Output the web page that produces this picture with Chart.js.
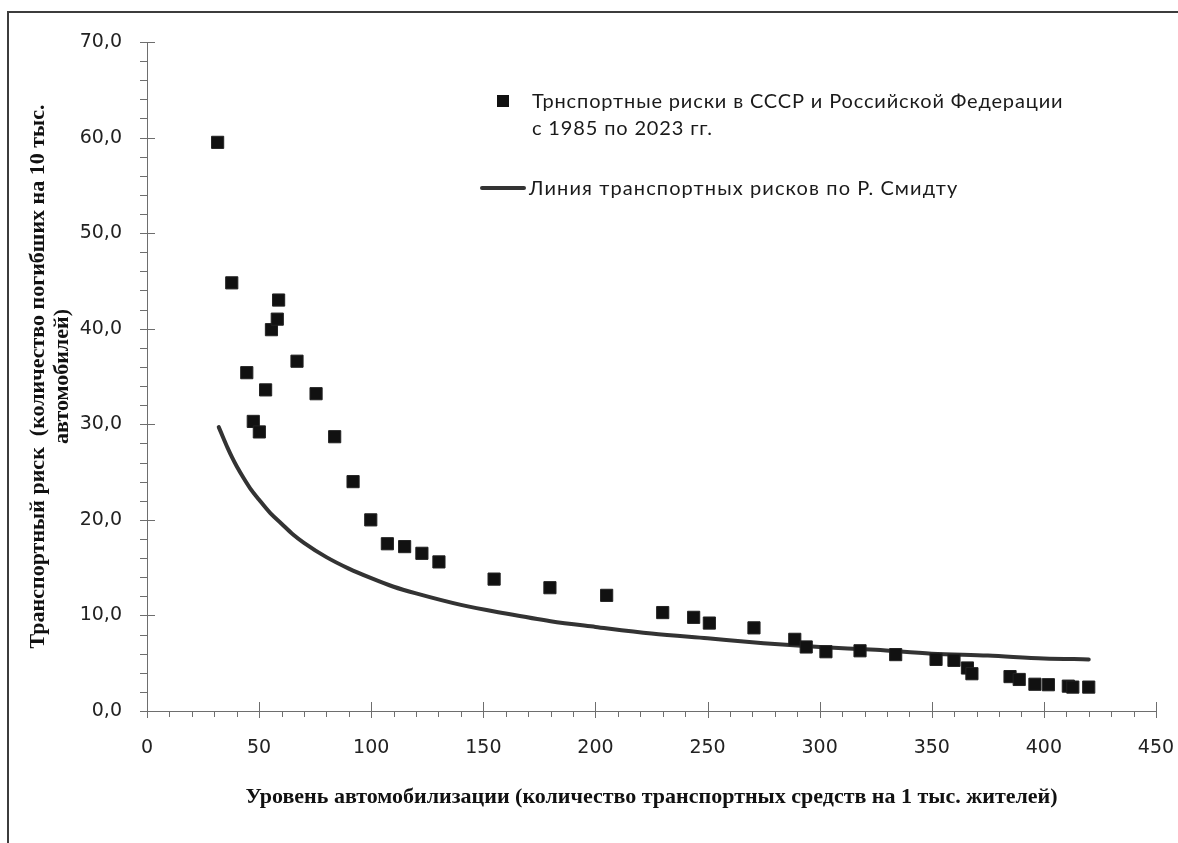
<!DOCTYPE html>
<html>
<head>
<meta charset="utf-8">
<script src="https://cdn.jsdelivr.net/npm/chart.js@4.4.1/dist/chart.umd.min.js"></script>
<style>
  body { margin: 0; background: #fff; }
  #wrap { position: relative; width: 1178px; height: 843px; overflow: hidden; }
  #frame { position: absolute; left: 7px; top: 11px; width: 1300px; height: 1000px;
           border-left: 2px solid #3c3c3c; border-top: 2px solid #3c3c3c; pointer-events: none; }
  .lg { position: absolute; font-family: Lato, "Liberation Sans", sans-serif; font-size: 20px;
        letter-spacing: 0.85px; color: #1a1a1a; line-height: 27px; white-space: nowrap; }
  .mark { position: absolute; background: #111; }
</style>
</head>
<body>
<div id="wrap">
  <canvas id="myChart" width="1178" height="843"></canvas>
  <div id="frame"></div>
  <div class="mark" style="left:497px;top:95px;width:12px;height:12px;"></div>
  <div class="lg" id="lg1" style="left:532px;top:87px;"></div>
  <div class="mark" style="left:480px;top:186px;width:46px;height:4px;background:#333;border-radius:2px;"></div>
  <div class="lg" id="lg2" style="left:529px;top:174px;letter-spacing:1.1px;"></div>
</div>
<script>
// Observed risk: vehicles per 1000 people vs deaths per 10k vehicles
var riskX = [31.5, 37.8, 44.5, 47.4, 50.1, 52.9, 55.5, 58.1, 58.7, 66.9, 75.4, 83.7,
             91.9, 99.8, 107.2, 114.9, 122.6, 130.2, 154.8, 179.7, 205.0,
             230.0, 243.8, 250.8, 270.7, 288.9, 294.0, 302.8, 318.0, 333.9, 351.9,
             359.9, 365.9, 367.9, 384.9, 389.0, 396.0, 402.0, 410.9, 412.9, 420.0];
var riskY = [59.5, 44.8, 35.4, 30.3, 29.2, 33.6, 39.9, 41.0, 43.0, 36.6, 33.2, 28.7,
             24.0, 20.0, 17.5, 17.2, 16.5, 15.6, 13.8, 12.9, 12.1,
             10.3, 9.8, 9.2, 8.7, 7.5, 6.7, 6.2, 6.3, 5.9, 5.4,
             5.3, 4.5, 3.9, 3.6, 3.3, 2.8, 2.75, 2.6, 2.5, 2.5];

// Smeed line
var smeedX = [32, 34, 36, 38, 40, 43, 46, 50, 55, 60, 65, 70, 80, 90, 100, 110, 120, 140, 160, 180, 200,
              225, 250, 275, 300, 325, 350, 375, 400, 420];
var smeedY = [29.7, 28.6, 27.5, 26.5, 25.6, 24.4, 23.3, 22.1, 20.7, 19.6, 18.5, 17.6, 16.1, 14.9, 13.9, 13.0, 12.3, 11.1, 10.2, 9.4, 8.8,
              8.1, 7.6, 7.1, 6.7, 6.4, 6.0, 5.8, 5.5, 5.4];

var riskLabel = ['Трнспортные риски в СССР и Российской Федерации', 'с 1985 по 2023 гг.'];
var smeedLabel = 'Линия транспортных рисков по Р. Смидту';
var xTitle = 'Уровень автомобилизации (количество транспортных средств на 1 тыс. жителей)';
var yTitle = ['Транспортный риск  (количество погибших на 10 тыс.', 'автомобилей)'];

document.getElementById('lg1').innerHTML = riskLabel.join('<br>');
document.getElementById('lg2').textContent = smeedLabel;

var riskPts = riskX.map(function(x, i) { return {x: x, y: riskY[i]}; });
var smeedPts = smeedX.map(function(x, i) { return {x: x, y: smeedY[i]}; });

// Excel style tick marks: major crossing the axis, minor on the outside
var tickMarks = {
  id: 'tickMarks',
  afterDraw: function(chart) {
    var ctx = chart.ctx, xs = chart.scales.x, ys = chart.scales.y;
    var ax = xs.getPixelForValue(0), ay = ys.getPixelForValue(0);
    ctx.save();
    ctx.strokeStyle = '#6e6e6e';
    ctx.lineWidth = 1;
    ctx.beginPath();
    for (var v = 0; v <= 450; v += 10) {
      var px = Math.round(xs.getPixelForValue(v)) + 0.5;
      if (v % 50 === 0) { ctx.moveTo(px, ay - 9); ctx.lineTo(px, ay + 7); }
      else { ctx.moveTo(px, ay); ctx.lineTo(px, ay + 6); }
    }
    for (var w = 0; w <= 70; w += 2) {
      var py = Math.round(ys.getPixelForValue(w)) + 0.5;
      if (w % 10 === 0) { ctx.moveTo(ax - 7, py); ctx.lineTo(ax + 8, py); }
      else { ctx.moveTo(ax - 7, py); ctx.lineTo(ax, py); }
    }
    ctx.stroke();
    ctx.restore();
  }
};

new Chart('myChart', {
  type: 'scatter',
  data: {
    datasets: [{
      label: riskLabel.join(' '),
      data: riskPts,
      pointStyle: 'rect',
      pointRadius: 8.6,
      pointHoverRadius: 8.6,
      backgroundColor: '#111',
      borderColor: '#222',
      borderWidth: 1
    }, {
      label: smeedLabel,
      data: smeedPts,
      showLine: true,
      cubicInterpolationMode: 'monotone',
      pointRadius: 0,
      borderColor: '#333',
      borderWidth: 4,
      borderCapStyle: 'round'
    }]
  },
  options: {
    responsive: false,
    animation: false,
    layout: { padding: { left: 0, top: 42, right: 22, bottom: 0 } },
    plugins: { legend: { display: false }, tooltip: { enabled: false } },
    scales: {
      x: {
        type: 'linear', min: 0, max: 450,
        afterFit: function(s) { s.height = 132; s.paddingRight = 0; s.paddingLeft = 0; },
        grid: { display: false, drawTicks: false },
        border: { display: true, color: '#6e6e6e', width: 1 },
        ticks: { stepSize: 50, padding: 26, color: '#222',
                 font: { family: '"DejaVu Sans", Verdana, sans-serif', size: 19 } },
        title: { display: true, text: xTitle, color: '#111', padding: { bottom: 32 },
                 font: { family: '"Liberation Serif", "Times New Roman", serif', size: 22, weight: 'bold', lineHeight: 1.2 } }
      },
      y: {
        type: 'linear', min: 0, max: 70,
        afterFit: function(s) { s.width = 147; s.paddingTop = 0; s.paddingBottom = 0; },
        grid: { display: false, drawTicks: false },
        border: { display: true, color: '#6e6e6e', width: 1 },
        ticks: { stepSize: 10, padding: 25, color: '#222',
                 font: { family: '"DejaVu Sans", Verdana, sans-serif', size: 19 },
                 callback: function(v) { return v.toFixed(1).replace('.', ','); } },
        title: { display: true, text: yTitle, color: '#111', padding: { top: 26 },
                 font: { family: '"Liberation Serif", "Times New Roman", serif', size: 22, weight: 'bold', lineHeight: '24px' } }
      }
    }
  },
  plugins: [tickMarks]
});
</script>
</body>
</html>
